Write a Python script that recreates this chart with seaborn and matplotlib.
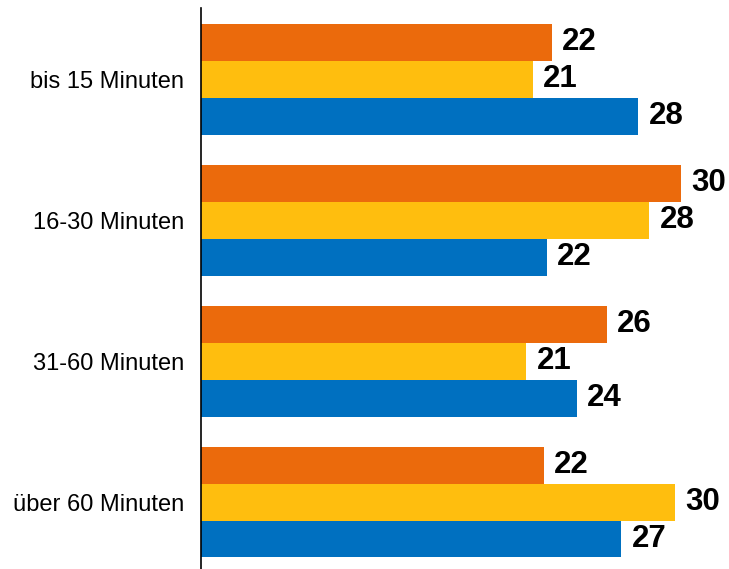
import matplotlib
matplotlib.use("Agg")
import matplotlib.pyplot as plt
import seaborn as sns
import pandas as pd

categories = ["bis 15 Minuten", "16-30 Minuten", "31-60 Minuten", "über 60 Minuten"]
series_names = ["Serie 1", "Serie 2", "Serie 3"]
serie1 = [22.2, 30.4, 25.7, 21.7]
serie2 = [21.0, 28.4, 20.6, 30.0]
serie3 = [27.7, 21.9, 23.8, 26.6]
colors = ["#EB6A0C", "#FFBE0E", "#0070C0"]

rows = []
for name, vals in zip(series_names, [serie1, serie2, serie3]):
    for c, v in zip(categories, vals):
        rows.append({"Kategorie": c, "Serie": name, "Wert": v})
df = pd.DataFrame(rows)

sns.set_theme(style="white")
plt.rcParams["font.family"] = ["Liberation Sans", "DejaVu Sans"]

fig = plt.figure(figsize=(7.29, 5.69), dpi=100)
ax = fig.add_axes([201 / 729, 0.0, 528 / 729, 1 - 8 / 569])

sns.barplot(data=df, x="Wert", y="Kategorie", hue="Serie", order=categories,
            hue_order=series_names, palette=colors, saturation=1, orient="h",
            width=0.786, linewidth=0, edgecolor="none", legend=False, ax=ax)

for cont in ax.containers:
    ax.bar_label(cont, labels=[f"{int(v + 0.5)}" for v in cont.datavalues],
                 padding=7.5, fontsize=22.5, fontweight="bold", color="black")

ax.set_xlim(0, 528 / 15.79)
ax.set_ylim(3.475, -0.506)
ax.set_xlabel("")
ax.set_ylabel("")
ax.set_xticks([])
ax.tick_params(axis="y", length=0, pad=12, labelsize=17, colors="black")
for s in ["top", "right", "bottom"]:
    ax.spines[s].set_visible(False)
ax.spines["left"].set_color("black")
ax.spines["left"].set_linewidth(1.2)
ax.patch.set_alpha(0)

fig.savefig("out.png", dpi=100, facecolor="white")
